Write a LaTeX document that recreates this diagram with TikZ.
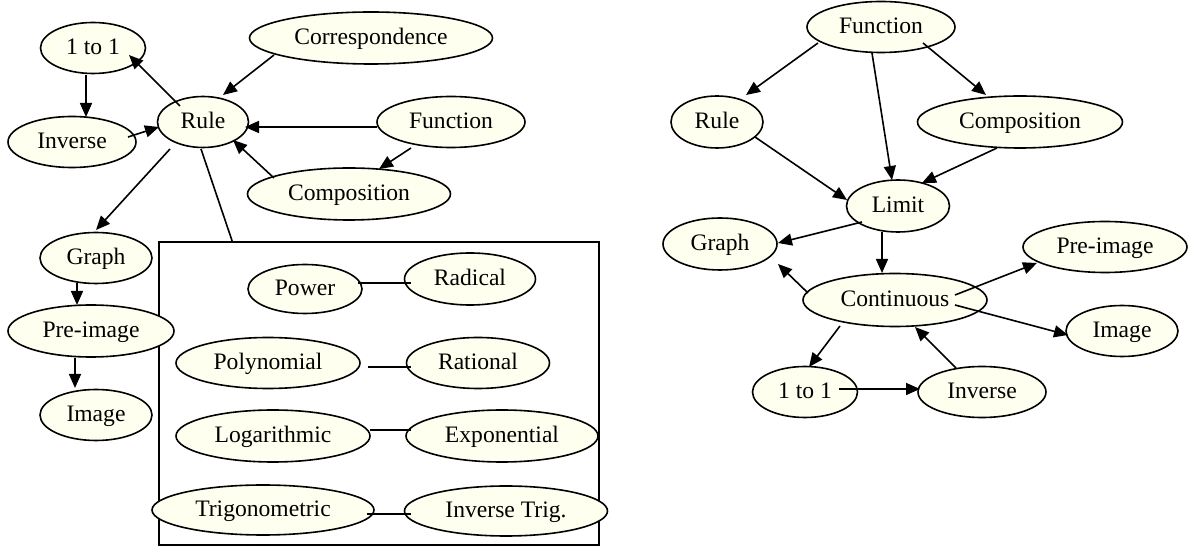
\documentclass[tikz,border=0pt]{standalone}
\usepackage{fontspec}
\setmainfont{Liberation Serif}
\usetikzlibrary{shapes.geometric,arrows.meta}
\definecolor{nodefill}{HTML}{FFFFF0}
\begin{document}
\begin{tikzpicture}[x=0.5pt,y=-0.5pt,
  ell/.style={ellipse,draw,fill=nodefill,line width=0.8pt,inner sep=0pt,
    font=\fontsize{11.8}{14}\selectfont,text height=0.84em,text depth=0.2em},
  sz/.style 2 args={minimum width=#1*0.5pt,minimum height=#2*0.5pt},
  arr/.style={line width=0.8pt,-{Triangle[length=7pt,width=6pt]}},
  ln/.style={line width=0.8pt},
  framebox/.style={draw,line width=0.8pt,inner sep=0pt}]
\useasboundingbox (0,0) rectangle (1196,550);
% ---------- left graph ----------
\node[framebox,sz={440}{303}] (box) at (379,393.5) {};
\node[ell,sz={105}{51}] (l1to1) at (93,48) {1 to 1};
\node[ell,sz={243}{52}] (lcorr) at (371,38) {Correspondence};
\node[ell,sz={91}{51}] (lrule) at (203,122) {Rule};
\node[ell,sz={128}{51}] (linv) at (72,142) {Inverse};
\node[ell,sz={148}{51}] (lfunc) at (451,122) {Function};
\node[ell,sz={203}{52}] (lcomp) at (349,194) {Composition};
\node[ell,sz={112}{51}] (lgraph) at (96,258) {Graph};
\node[ell,sz={166}{52}] (lpre) at (91,331) {Pre-image};
\node[ell,sz={112}{51}] (limg) at (96,415) {Image};
\node[ell,sz={114}{49}] (power) at (305,289) {Power};
\node[ell,sz={131}{52}] (radical) at (470,279) {Radical};
\node[ell,sz={184}{51}] (poly) at (268,363) {Polynomial};
\node[ell,sz={143}{51}] (rational) at (478,363) {Rational};
\node[ell,sz={194}{52}] (log) at (273,436) {Logarithmic};
\node[ell,sz={192}{52}] (expo) at (502,436) {Exponential};
\node[ell,sz={222}{50}] (trig) at (263,510) {Trigonometric};
\node[ell,sz={203}{50}] (invtrig) at (506,511) {Inverse Trig.};
\draw[arr] ([shift={(-97,17)}]lcorr.center) -- ([shift={(20,-27)}]lrule.center);
\draw[arr] ([shift={(-23,-16)}]lrule.center) -- ([shift={(36,7)}]l1to1.center);
\draw[arr] ([shift={(-7,27)}]l1to1.center) -- ([shift={(14,-25)}]linv.center);
\draw[arr] ([shift={(56,-5)}]linv.center) -- ([shift={(-44,5)}]lrule.center);
\draw[arr] ([shift={(-74,5)}]lfunc.center) -- ([shift={(42,5)}]lrule.center);
\draw[arr] ([shift={(-40,26)}]lfunc.center) -- ([shift={(30,-25)}]lcomp.center);
\draw[arr] ([shift={(-75,-16)}]lcomp.center) -- ([shift={(30,18)}]lrule.center);
\draw[arr] ([shift={(-33,27)}]lrule.center) -- ([shift={(0,-28)}]lgraph.center);
\draw[ln] ([shift={(-2,27)}]lrule.center) -- ([shift={(74,0)}]box.north west);
\draw[arr] ([shift={(-19,25)}]lgraph.center) -- ([shift={(-14,-26)}]lpre.center);
\draw[arr] ([shift={(-16,27)}]lpre.center) -- ([shift={(-21,-27)}]limg.center);
\draw[ln] ([shift={(53,-6)}]power.center) -- ([shift={(-59,4)}]radical.center);
\draw[ln] ([shift={(100,4)}]poly.center) -- ([shift={(-67,4)}]rational.center);
\draw[ln] ([shift={(97,-6)}]log.center) -- ([shift={(-91,-6)}]expo.center);
\draw[ln] ([shift={(104,4)}]trig.center) -- ([shift={(-95,3)}]invtrig.center);
% ---------- right graph ----------
\node[ell,sz={148}{51}] (rfunc) at (881,27) {Function};
\node[ell,sz={92}{52}] (rrule) at (717,122) {Rule};
\node[ell,sz={205}{52}] (rcomp) at (1020,122) {Composition};
\node[ell,sz={103}{52}] (rlimit) at (898,206) {Limit};
\node[ell,sz={114}{52}] (rgraph) at (720,244) {Graph};
\node[ell,sz={184}{53}] (rcont) at (895,300) {Continuous};
\node[ell,sz={164}{51}] (rpre) at (1105,247) {Pre-image};
\node[ell,sz={112}{51}] (rimg) at (1122,331) {Image};
\node[ell,sz={105}{51}] (r1to1) at (805,392) {1 to 1};
\node[ell,sz={128}{51}] (rinv) at (982,392) {Inverse};
\draw[arr] ([shift={(-63,16)}]rfunc.center) -- ([shift={(29,-27)}]rrule.center);
\draw[arr] ([shift={(-9,26)}]rfunc.center) -- ([shift={(-6,-26)}]rlimit.center);
\draw[arr] ([shift={(42,16)}]rfunc.center) -- ([shift={(-34,-27)}]rcomp.center);
\draw[arr] ([shift={(38,15)}]rrule.center) -- ([shift={(-51,-6)}]rlimit.center);
\draw[arr] ([shift={(-23,26)}]rcomp.center) -- ([shift={(24,-23)}]rlimit.center);
\draw[arr] ([shift={(-36,16)}]rlimit.center) -- ([shift={(58,-1)}]rgraph.center);
\draw[arr] ([shift={(-16,26)}]rlimit.center) -- ([shift={(-13,-27)}]rcont.center);
\draw[arr] ([shift={(-87,-7)}]rcont.center) -- ([shift={(58,20)}]rgraph.center);
\draw[arr] ([shift={(60,-5)}]rcont.center) -- ([shift={(-68,16)}]rpre.center);
\draw[arr] ([shift={(60,5)}]rcont.center) -- ([shift={(-54,4)}]rimg.center);
\draw[arr] ([shift={(-55,26)}]rcont.center) -- ([shift={(4,-25)}]r1to1.center);
\draw[arr] ([shift={(34,-3)}]r1to1.center) -- ([shift={(-62,-3)}]rinv.center);
\draw[arr] ([shift={(-26,-24)}]rinv.center) -- ([shift={(20,27)}]rcont.center);
\end{tikzpicture}
\end{document}
